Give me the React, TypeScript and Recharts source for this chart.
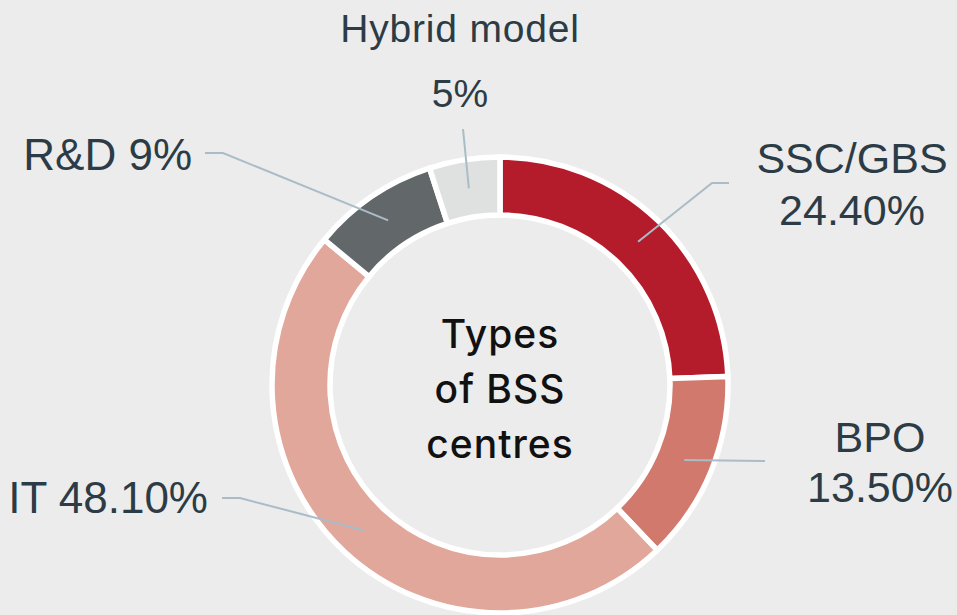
import React from 'react'
import { PieChart, Pie, Cell } from 'recharts'

const categories = ['SSC/GBS', 'BPO', 'IT', 'R&D', 'Hybrid model']
const shares = [24.4, 13.5, 48.1, 9, 5]
const shareLabels = ['24.40%', '13.50%', '48.10%', '9%', '5%']

const COLORS = ['#b41c2b', '#d2796d', '#e1a79b', '#62676a', '#dfe1e0']
const BG = '#ececec'
const TEXT = '#2c3c46'
const LEADER = '#a9bcc7'
const CX = 500
const CY = 385
const RAD = Math.PI / 180

// where each callout goes: leader line bends, then text lines
type Callout = {
  path: [number, number][]
  x: number
  ys: number[]
  anchor: 'start' | 'middle' | 'end'
  size: number
  oneLine?: boolean
  spacing?: number
}
const CALLOUTS: Record<string, Callout> = {
  'SSC/GBS': { path: [[712, 183], [729, 183]], x: 852, ys: [173, 225], anchor: 'middle', size: 43 },
  BPO: { path: [[765, 461]], x: 880, ys: [452, 502], anchor: 'middle', size: 43 },
  IT: { path: [[240, 498], [222, 498]], x: 208, ys: [513], anchor: 'end', size: 44, oneLine: true },
  'R&D': { path: [[223, 153], [205, 153]], x: 192, ys: [170], anchor: 'end', size: 44, oneLine: true },
  'Hybrid model': { path: [[463, 129]], x: 460, ys: [42, 107], anchor: 'middle', size: 39, spacing: 0.8 },
}

const data = categories.map((name, i) => ({ name, value: shares[i], label: shareLabels[i] }))

const renderCallout = (props: any) => {
  const { midAngle, index } = props
  const name = categories[index]
  const c = CALLOUTS[name]
  const r = 199
  const sx = CX + r * Math.cos(-midAngle * RAD)
  const sy = CY + r * Math.sin(-midAngle * RAD)
  const pts = [[sx, sy], ...c.path].map((p) => p.join(',')).join(' ')
  const lines = c.oneLine ? [`${name} ${shareLabels[index]}`] : [name, shareLabels[index]]
  return (
    <g key={`callout-${index}`}>
      <polyline points={pts} fill="none" stroke={LEADER} strokeWidth={2} />
      {lines.map((t, j) => (
        <text
          key={j}
          x={c.x}
          y={c.ys[j]}
          textAnchor={c.anchor}
          fill={TEXT}
          fontSize={c.size}
          letterSpacing={j === 0 && c.spacing ? c.spacing : 0}
          fontFamily="'Liberation Sans', Arial, sans-serif"
        >
          {t}
        </text>
      ))}
    </g>
  )
}

export default function App() {
  return (
    <div style={{ position: 'fixed', left: 0, top: 0, width: 957, height: 615, background: BG }}>
      <PieChart width={957} height={615} margin={{ top: 0, right: 0, bottom: 0, left: 0 }}>
        <Pie
          data={data}
          dataKey="value"
          nameKey="name"
          cx={CX}
          cy={CY}
          startAngle={90}
          endAngle={-270}
          innerRadius={170}
          outerRadius={228}
          stroke="#ffffff"
          strokeWidth={5.5}
          label={renderCallout}
          labelLine={false}
          isAnimationActive={false}
        >
          {data.map((d, i) => (
            <Cell key={d.name} fill={COLORS[i]} />
          ))}
        </Pie>
      </PieChart>
      <svg width={957} height={615} style={{ position: 'absolute', left: 0, top: 0, pointerEvents: 'none' }}>
        {['Types', 'of BSS', 'centres'].map((t, i) => (
          <text
            key={t}
            x={500}
            y={348 + i * 55}
            textAnchor="middle"
            fill="#111111"
            fontSize={39}
            fontWeight={500}
            letterSpacing={1}
            fontFamily="Inter, 'Noto Sans', sans-serif"
          >
            {t}
          </text>
        ))}
      </svg>
    </div>
  )
}
